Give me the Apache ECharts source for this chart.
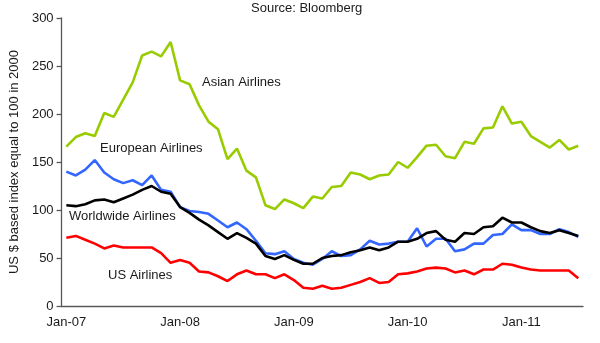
<!DOCTYPE html>
<html>
<head>
<meta charset="utf-8">
<script src="https://cdn.jsdelivr.net/npm/echarts@6/dist/echarts.min.js"></script>
<style>html,body{margin:0;padding:0;background:#fff}#c{width:600px;height:343px}</style>
</head>
<body>
<div id="c"></div>
<script>
var categories = [
 'Jan-07','Feb-07','Mar-07','Apr-07','May-07','Jun-07','Jul-07','Aug-07','Sep-07','Oct-07','Nov-07','Dec-07',
 'Jan-08','Feb-08','Mar-08','Apr-08','May-08','Jun-08','Jul-08','Aug-08','Sep-08','Oct-08','Nov-08','Dec-08',
 'Jan-09','Feb-09','Mar-09','Apr-09','May-09','Jun-09','Jul-09','Aug-09','Sep-09','Oct-09','Nov-09','Dec-09',
 'Jan-10','Feb-10','Mar-10','Apr-10','May-10','Jun-10','Jul-10','Aug-10','Sep-10','Oct-10','Nov-10','Dec-10',
 'Jan-11','Feb-11','Mar-11','Apr-11','May-11','Jun-11','Jul-11'
];
var asian = [166,176,180,177,201,197,215,233,261,265,260,275,
 235,231,209,192,184,153,164,141,134,105,101,111,
 107,102,114,112,124,125,139,137,132,136,137,150,
 144,155,167,168,156,154,171,169,185,186,208,190,
 192,177,171,165,173,163,167];
var european = [140,136,142,152,139,132,128,131,126,136,121,119,
 103,99,98,96,89,82,87,80,68,55,54,57,
 49,45,43,49,57,52,53,59,68,64,65,67,
 67,81,62,70,70,57,59,65,65,74,75,85,
 79,79,75,75,80,77,72];
var worldwide = [105,104,106,110,111,108,112,116,121,125,119,117,
 103,97,90,84,77,70,76,71,65,52,49,53,
 48,44,44,50,52,53,56,58,61,58,61,67,
 67,70,76,78,69,67,76,75,82,83,92,87,
 87,82,78,76,79,76,73];
var us = [71,73,69,65,60,63,61,61,61,61,55,45,
 48,45,36,35,31,26,33,37,33,33,29,33,
 27,19,18,21,18,19,22,25,29,24,25,33,
 34,36,39,40,39,35,37,33,38,38,44,43,
 40,38,37,37,37,37,29];
var yTicks = {min: 0, max: 300, interval: 50};
var seriesNames = ['Asian Airlines','European Airlines','Worldwide Airlines','US Airlines'];
var yAxisTitle = 'US $ based index equal to 100 in 2000';
var sourceText = 'Source: Bloomberg';

var font = 'Arial, "Liberation Sans", sans-serif';
var axisColor = '#595959';
var chart = echarts.init(document.getElementById('c'));
function line(name, data, color) {
  return {name: name, type: 'line', data: data, symbol: 'none', smooth: false,
    lineStyle: {color: color, width: 2.6}, itemStyle: {color: color}, animation: false};
}
function label(text, x, y) {
  return {type: 'text', left: x, top: y,
    style: {text: text, font: '13px ' + font, fill: '#1a1a1a', textVerticalAlign: 'middle'}};
}
chart.setOption({
  animation: false,
  grid: {left: 57, right: 17, top: 18, bottom: 37, containLabel: false},
  xAxis: {
    type: 'category', data: categories, boundaryGap: true,
    axisLine: {lineStyle: {color: axisColor, width: 1.3}},
    axisTick: {interval: 11, length: 5, alignWithLabel: false, lineStyle: {color: axisColor, width: 1.3}},
    axisLabel: {interval: 11, margin: 10, color: '#1a1a1a', fontSize: 13, fontFamily: font},
    splitLine: {show: false}
  },
  yAxis: {
    type: 'value', min: yTicks.min, max: yTicks.max, interval: yTicks.interval,
    name: yAxisTitle, nameLocation: 'middle', nameRotate: 90, nameGap: 38,
    nameTextStyle: {color: '#1a1a1a', fontSize: 13, fontFamily: font},
    axisLine: {show: true, lineStyle: {color: axisColor, width: 1.3}},
    axisTick: {show: true, length: 5, lineStyle: {color: axisColor, width: 1.3}},
    axisLabel: {margin: 8, color: '#1a1a1a', fontSize: 13, fontFamily: font},
    splitLine: {show: false}
  },
  series: [
    line(seriesNames[0], asian, '#99CC00'),
    line(seriesNames[1], european, '#3366FF'),
    line(seriesNames[2], worldwide, '#000000'),
    line(seriesNames[3], us, '#FF0000')
  ],
  graphic: [
    {type: 'text', left: 251, top: 2, style: {text: sourceText, font: '13px ' + font, fill: '#1a1a1a'}},
    {type: 'text', left: 202, top: 76, style: {text: seriesNames[0], font: '13px ' + font, fill: '#1a1a1a'}},
    {type: 'text', left: 100, top: 142, style: {text: seriesNames[1], font: '13px ' + font, fill: '#1a1a1a'}},
    {type: 'text', left: 69, top: 210, style: {text: seriesNames[2], font: '13px ' + font, fill: '#1a1a1a'}},
    {type: 'text', left: 108, top: 269, style: {text: seriesNames[3], font: '13px ' + font, fill: '#1a1a1a'}}
  ]
});
</script>
</body>
</html>
